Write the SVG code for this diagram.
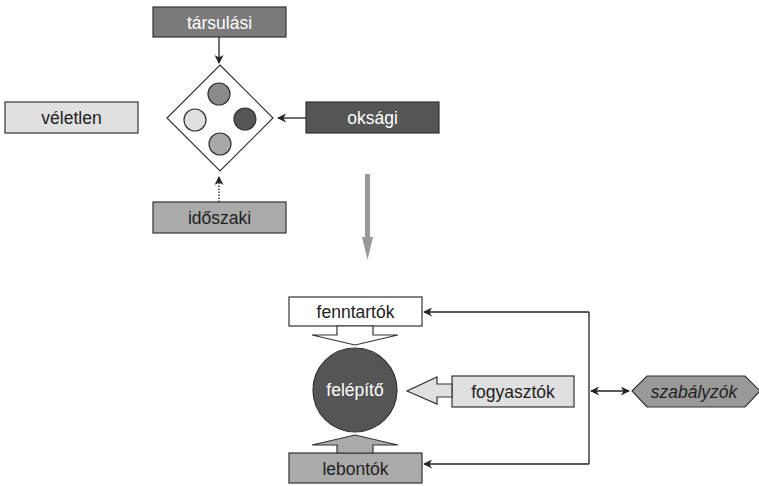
<svg xmlns="http://www.w3.org/2000/svg" width="759" height="486" viewBox="0 0 759 486">
<defs>
<style>
.box{stroke:#333;stroke-width:1.2}
.t{font-family:"Liberation Sans",Arial,sans-serif;font-size:17.5px;text-anchor:middle}
.w{fill:#fff}
.k{fill:#222}
.ln{stroke:#222;stroke-width:1.3;fill:none}
</style>
<marker id="ah" viewBox="0 0 10 10" refX="9" refY="5" markerWidth="10" markerHeight="9" orient="auto-start-reverse" markerUnits="userSpaceOnUse">
<path d="M0,0 L10,5 L0,10 L3,5 Z" fill="#222"/>
</marker>
</defs>
<rect width="759" height="486" fill="#fff"/>

<g id="tarsulasi"><rect class="box" x="153" y="7" width="133" height="30" fill="#7a7a7a"/><text class="t w" x="219.5" y="28.5">társulási</text></g>
<g id="veletlen"><rect class="box" x="5" y="102" width="133" height="31" fill="#e0e0e0"/><text class="t k" x="71.5" y="124">véletlen</text></g>
<g id="oksagi"><rect class="box" x="306" y="102" width="133" height="31" fill="#555"/><text class="t w" x="372.5" y="124">oksági</text></g>
<g id="idoszaki"><rect class="box" x="153" y="202" width="133" height="31" fill="#aaa"/><text class="t k" x="219.5" y="224">időszaki</text></g>

<g id="diamond">
<polygon class="box" points="220,65 273,118 220,171 167,118" fill="#fff"/>
<circle cx="219" cy="94" r="11" fill="#8a8a8a" class="box"/>
<circle cx="195" cy="120" r="11" fill="#e0e0e0" class="box"/>
<circle cx="245" cy="119" r="11" fill="#555" class="box"/>
<circle cx="220" cy="144" r="11" fill="#a8a8a8" class="box"/>
</g>

<g id="fenntartok"><rect class="box" x="289" y="297" width="133" height="29" fill="#fff"/><text class="t k" x="355.5" y="318">fenntartók</text></g>
<g id="felepito"><circle cx="355" cy="390" r="42" fill="#555" class="box"/><text class="t w" x="355" y="396">felépítő</text></g>
<g id="fogyasztok"><rect class="box" x="452" y="376" width="122" height="31" fill="#e0e0e0"/><text class="t k" x="513" y="398">fogyasztók</text></g>
<g id="lebontok"><rect class="box" x="289" y="453" width="133" height="30" fill="#aaa"/><text class="t k" x="355.5" y="475">lebontók</text></g>
<g id="szabalyzok"><polygon class="box" points="632,391 647,376 745,376 760,391 745,407 647,407" fill="#999"/><text class="t k" x="694" y="398" font-style="italic">szabályzók</text></g>

<g id="connectors">
<line class="ln" x1="219" y1="37" x2="219" y2="63" marker-end="url(#ah)"/>
<line class="ln" x1="306" y1="118" x2="278" y2="118" marker-end="url(#ah)"/>
<line class="ln" x1="219" y1="202" x2="219" y2="177" stroke-dasharray="1.5,1.5" marker-end="url(#ah)"/>
<polygon points="365,174 370,174 370,237 373,237 367.5,260 362,237 365,237" fill="#999"/>
<polygon class="box" points="337,326 337,335 312,335 355,345 398,335 373,335 373,326" fill="#fff"/>
<polygon class="box" points="452,384 437,384 437,377 407,391 437,404 437,397 452,397" fill="#e0e0e0"/>
<polygon class="box" points="337,453 337,445 312,445 355,435 398,445 373,445 373,453" fill="#aaa"/>
<polyline class="ln" points="589,312 589,464"/>
<line class="ln" x1="589" y1="312" x2="424" y2="312" marker-end="url(#ah)"/>
<line class="ln" x1="589" y1="464" x2="424" y2="464" marker-end="url(#ah)"/>
<line class="ln" x1="591" y1="391" x2="629" y2="391" marker-start="url(#ah)" marker-end="url(#ah)"/>
</g>
</svg>
